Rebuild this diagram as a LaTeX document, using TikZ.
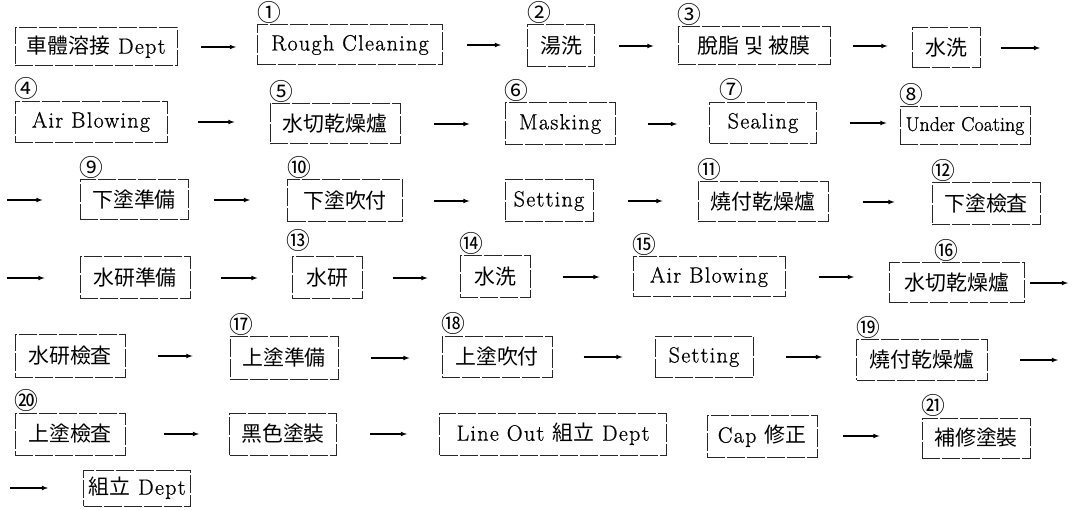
\documentclass[tikz,border=0pt]{standalone}
\usepackage{fontspec}
\setmainfont{Latin Modern Roman}[LetterSpace=6, FakeBold=0.8]
\newfontfamily\cjk{Noto Sans CJK KR}[Scale=0.95]
\tikzset{
  stepbox/.style={draw=black!85, line width=1pt, dash pattern=on 18pt off 2pt,
    inner sep=0pt, font=\fontsize{22}{26}\selectfont},
  boxsize/.style 2 args={minimum width=#1pt, minimum height=#2pt},
  num/.style={font=\cjk\fontsize{25}{25}\selectfont, inner sep=0pt, anchor=south west, yshift=1pt},
  flow/.style 2 args={->, >=latex, line width=1.1pt, shorten <=#1pt, shorten >=#2pt},
}
\begin{document}
\begin{tikzpicture}[x=1pt, y=-1pt]
\useasboundingbox (0,0) rectangle (1081,510);

% row 1
\node[stepbox, boxsize={162}{38}] (n0) at (96,47) {{\cjk 車體溶接} Dept};
\node[stepbox, boxsize={185}{40}, label={[num]north west:①}] (n1) at (350,45) {Rough Cleaning};
\node[stepbox, boxsize={67}{42}, label={[num]north west:②}] (n2) at (561,46) {\cjk 湯洗};
\node[stepbox, boxsize={152}{38}, label={[num]north west:③}] (n3) at (754,46) {\cjk 脫脂 및 被膜};
\node[stepbox, boxsize={68}{40}] (n4) at (946,48) {\cjk 水洗};
\coordinate (e1) at (1040,48);

% row 2
\node[stepbox, boxsize={152}{41}, label={[num]north west:④}] (n5) at (91,122) {Air Blowing};
\node[stepbox, boxsize={130}{40}, label={[num]north west:⑤}] (n6) at (335,124) {\cjk 水切乾燥爐};
\node[stepbox, boxsize={110}{42}, label={[num]north west:⑥}] (n7) at (560,124) {Masking};
\node[stepbox, boxsize={107}{41}, label={[num, xshift=10pt]north west:⑦}] (n8) at (763,123) {Sealing};
\node[stepbox, boxsize={130}{38}, font={\fontsize{20}{24}\selectfont\addfontfeatures{LetterSpace=0}},
  label={[num]north west:⑧}] (n9) at (965,126) {Under Coating};

% row 3
\coordinate (s3) at (7,200);
\node[stepbox, boxsize={108}{40}, label={[num]north west:⑨}] (n10) at (134,200) {\cjk 下塗準備};
\node[stepbox, boxsize={115}{42}, label={[num]north west:⑩}] (n11) at (345,201) {\cjk 下塗吹付};
\node[stepbox, boxsize={88}{42}] (n12) at (549,201) {Setting};
\node[stepbox, boxsize={130}{40}, label={[num]north west:⑪}] (n13) at (763,202) {\cjk 燒付乾燥爐};
\node[stepbox, boxsize={108}{42}, label={[num]north west:⑫}] (n14) at (986,204) {\cjk 下塗檢査};

% row 4
\coordinate (s4) at (7,278);
\node[stepbox, boxsize={110}{42}] (n15) at (135,278) {\cjk 水研準備};
\node[stepbox, boxsize={70}{42}, label={[num, xshift=-5pt, yshift=4pt]north west:⑬}] (n16) at (327,278) {\cjk 水研};
\node[stepbox, boxsize={70}{42}, label={[num]north west:⑭}] (n17) at (495,277) {\cjk 水洗};
\node[stepbox, boxsize={152}{40}, label={[num]north west:⑮}] (n18) at (709,277) {Air Blowing};
\node[stepbox, boxsize={135}{40}, label={[num, xshift=45pt]north west:⑯}] (n19) at (957,283) {\cjk 水切乾燥爐};
\coordinate (e4) at (1068,283);

% row 5
\node[stepbox, boxsize={110}{42}] (n20) at (70,356) {\cjk 水研檢査};
\node[stepbox, boxsize={108}{42}, label={[num]north west:⑰}] (n21) at (284,358) {\cjk 上塗準備};
\node[stepbox, boxsize={110}{41}, label={[num]north west:⑱}] (n22) at (497,357) {\cjk 上塗吹付};
\node[stepbox, boxsize={98}{41}] (n23) at (704,357) {Setting};
\node[stepbox, boxsize={131}{40}, label={[num]north west:⑲}] (n24) at (922,360) {\cjk 燒付乾燥爐};
\coordinate (e5) at (1058,360);

% row 6
\node[stepbox, boxsize={110}{42}, label={[num]north west:⑳}] (n25) at (70,434) {\cjk 上塗檢査};
\node[stepbox, boxsize={107}{42}] (n26) at (283,434) {\cjk 黑色塗裝};
\node[stepbox, boxsize={227}{42}] (n27) at (553,434) {Line Out {\cjk 組立} Dept};
\node[stepbox, boxsize={110}{42}] (n28) at (762,436) {Cap {\cjk 修正}};
\node[stepbox, boxsize={108}{40}, label={[num]north west:㉑}] (n29) at (976,438) {\cjk 補修塗裝};

% row 7
\coordinate (s7) at (10,488);
\node[stepbox, boxsize={107}{36}] (n30) at (137,488) {{\cjk 組立} Dept};

% flow arrows
\draw[flow={23}{21}] (n0) -- (n0 -| n1.west);
\draw[flow={24}{26}] (n1) -- (n1 -| n2.west);
\draw[flow={24}{24}] (n2) -- (n2 -| n3.west);
\draw[flow={22}{24}] (n3) -- (n3 -| n4.west);
\draw[flow={20}{0}] (n4) -- (e1);

\draw[flow={30}{35}] (n5) -- (n5 -| n6.west);
\draw[flow={33}{35}] (n6) -- (n6 -| n7.west);
\draw[flow={32}{32}] (n7) -- (n7 -| n8.west);
\draw[flow={33}{13}] (n8) -- (n8 -| n9.west);

\draw[flow={0}{37}] (s3) -- (n10);
\draw[flow={25}{37}] (n10) -- (n10 -| n11.west);
\draw[flow={31}{35}] (n11) -- (n11 -| n12.west);
\draw[flow={34}{35}] (n12) -- (n12 -| n13.west);
\draw[flow={34}{37}] (n13) -- (n13 -| n14.west);

\draw[flow={0}{35}] (s4) -- (n15);
\draw[flow={30}{34}] (n15) -- (n15 -| n16.west);
\draw[flow={30}{32}] (n16) -- (n16 -| n17.west);
\draw[flow={32}{33}] (n17) -- (n17 -| n18.west);
\draw[flow={33}{35}] (n18) -- (n18 -| n19.west);
\draw[flow={5}{0}] (n19) -- (e4);

\draw[flow={32}{37}] (n20) -- (n20 -| n21.west);
\draw[flow={32}{32}] (n21) -- (n21 -| n22.west);
\draw[flow={31}{32}] (n22) -- (n22 -| n23.west);
\draw[flow={32}{34}] (n23) -- (n23 -| n24.west);
\draw[flow={32}{0}] (n24) -- (e5);

\draw[flow={38}{30}] (n25) -- (n25 -| n26.west);
\draw[flow={33}{32}] (n26) -- (n26 -| n27.west);
\draw[flow={25}{42}] (n28) -- (n28 -| n29.west);

\draw[flow={0}{35}] (s7) -- (n30);
\end{tikzpicture}
\end{document}
